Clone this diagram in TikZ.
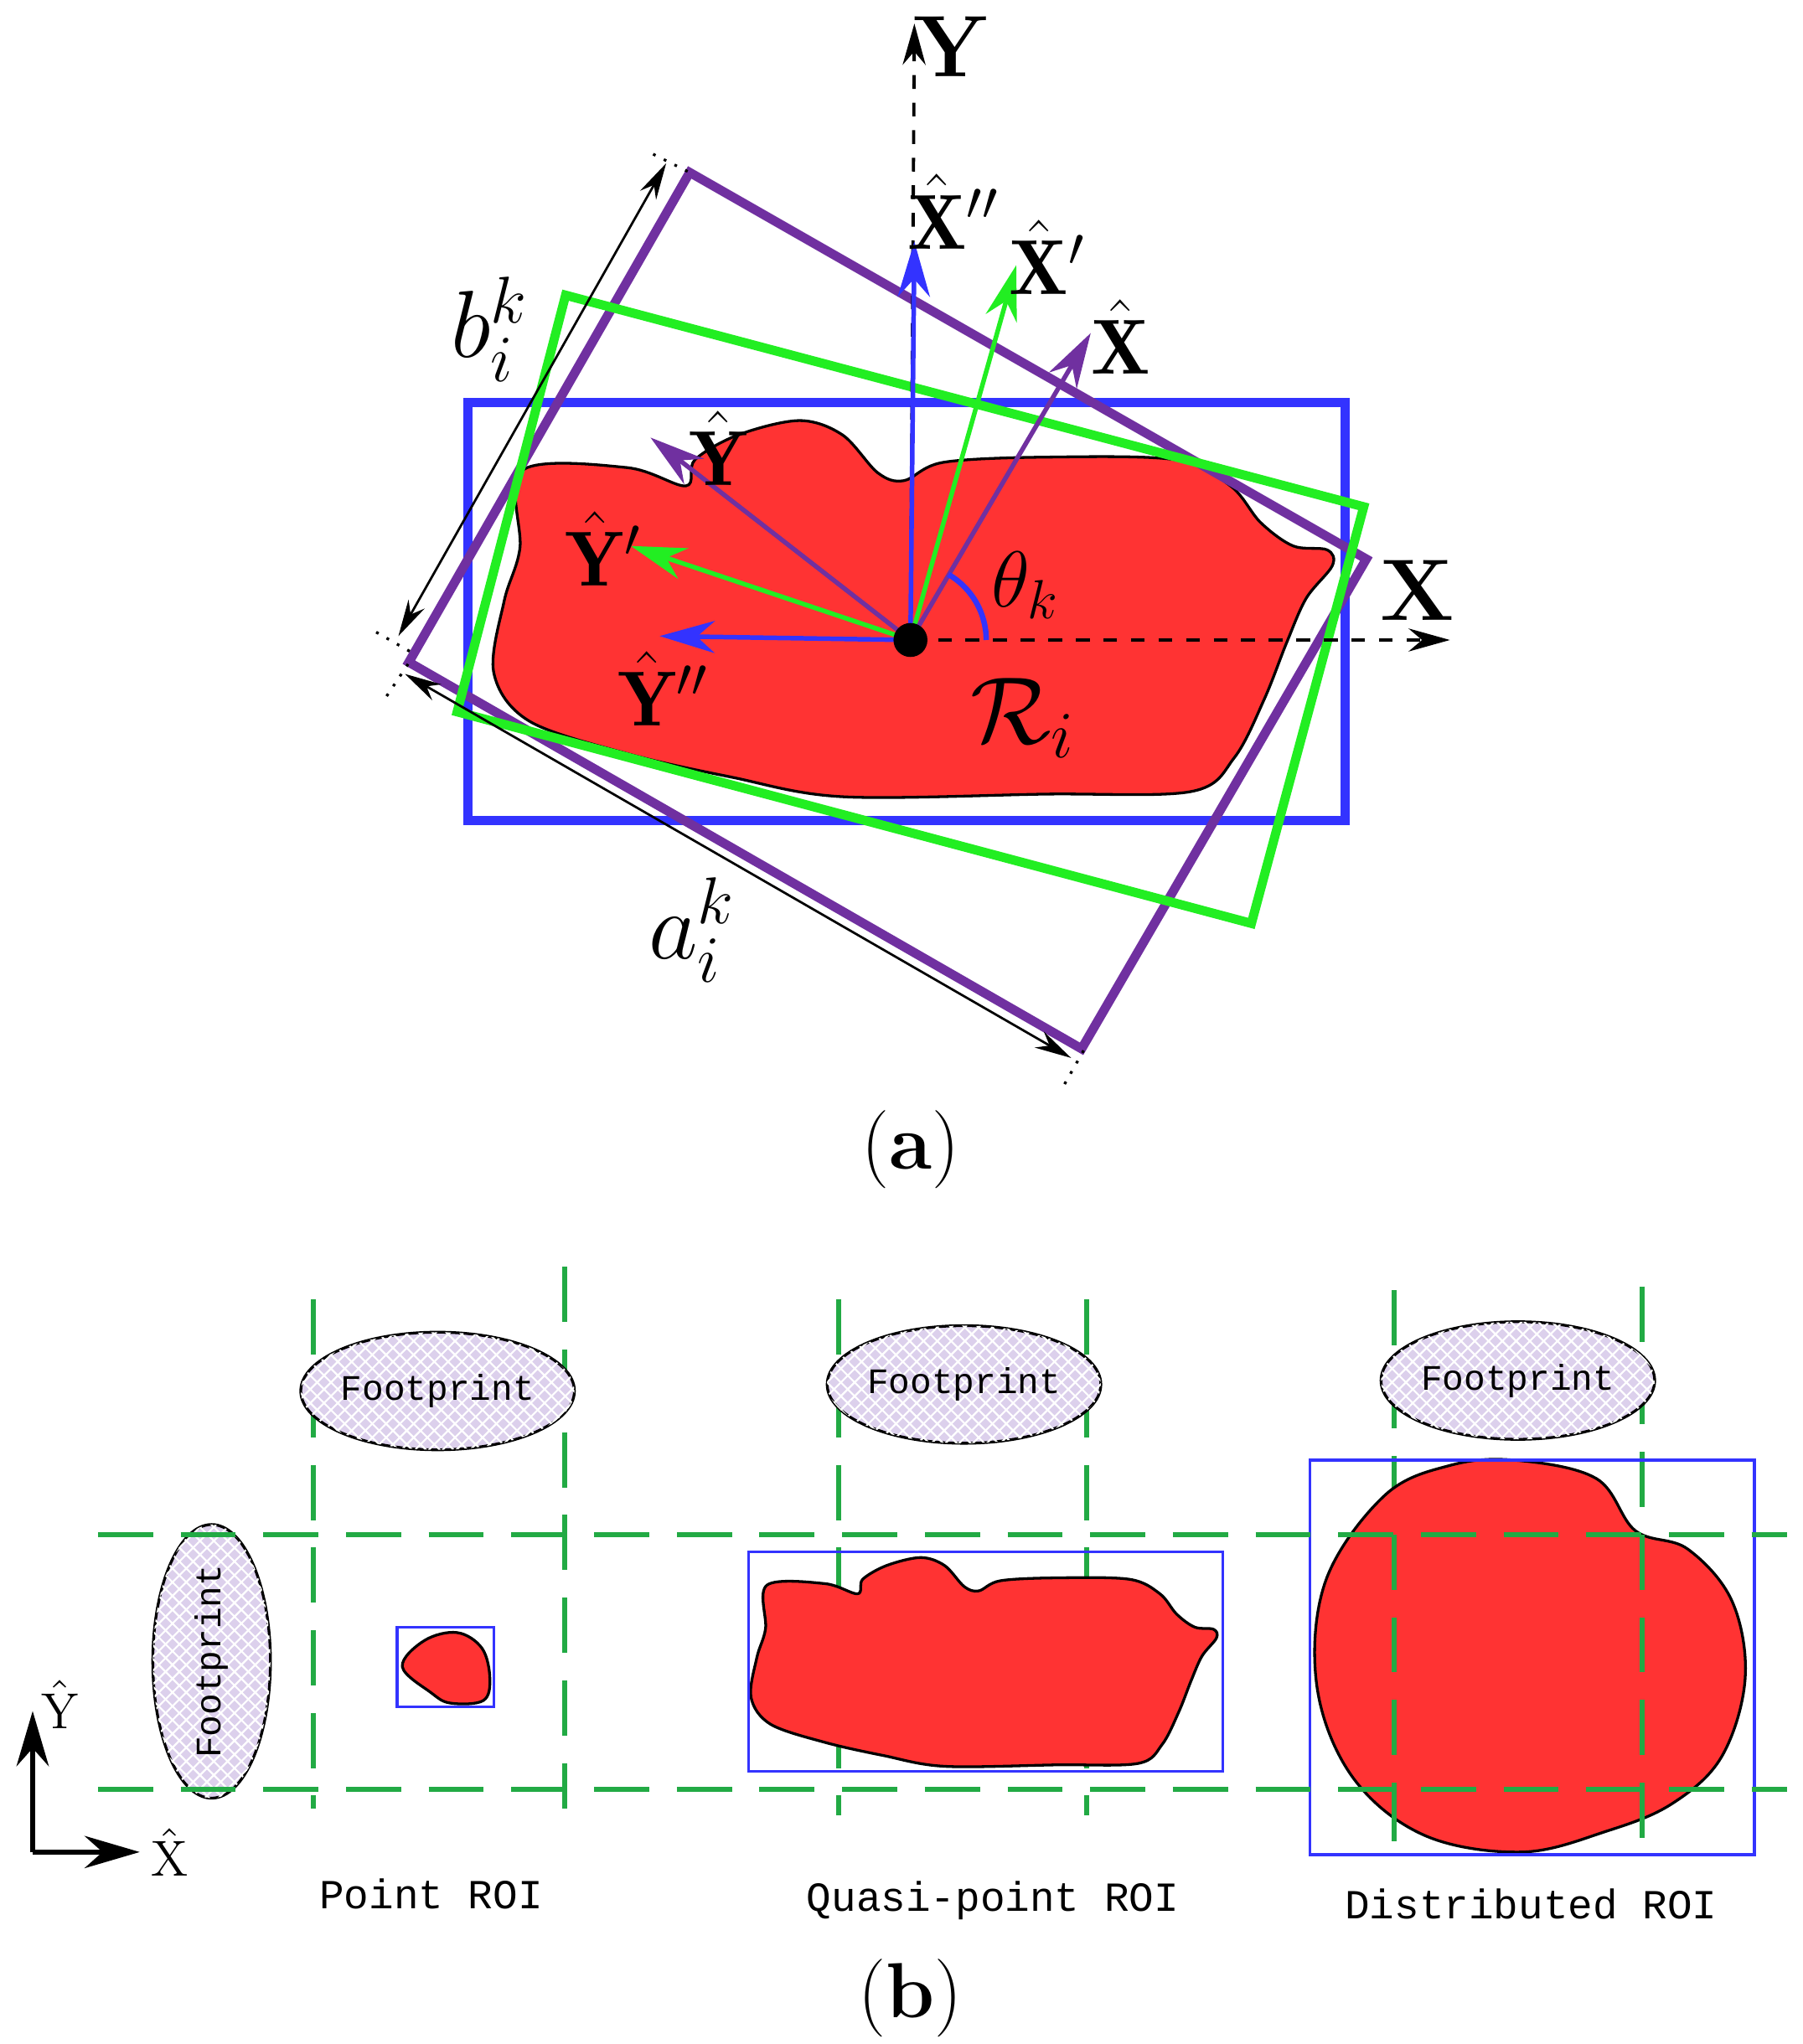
\documentclass[tikz,border=0pt]{standalone}
\usepackage{fontspec}
\newfontfamily\roifont{Liberation Mono}
\usetikzlibrary{arrows.meta, patterns, shapes.geometric}
\definecolor{roired}{HTML}{FF3333}
\definecolor{roiblue}{HTML}{3333FF}
\definecolor{roigreen}{HTML}{22EE22}
\definecolor{roipurple}{HTML}{7030A0}
\definecolor{gridgreen}{HTML}{22AA44}
\definecolor{lav}{HTML}{DCD0EC}
\newcommand{\blobpath}{plot[smooth cycle, tension=0.55] coordinates {(400,360) (480,358) (525,372) (532,352) (565,333) (612,322) (645,333) (672,362) (692,368) (722,354) (800,350) (900,352) (942,372) (965,400) (990,418) (1016,421) (1020,433) (1000,458) (985,492) (968,535) (945,580) (912,606) (800,608) (645,610) (560,595) (480,577) (405,552) (378,515) (386,460) (398,420)}}
\begin{document}
\begin{tikzpicture}[x=0.01cm, y=-0.01cm,
    vec/.style = {-{Stealth[length=12pt,width=7pt]}, line width=1pt},
    axis/.style = {dashed, -{Stealth[length=9pt,width=5pt]}, line width=0.7pt},
    dim/.style = {{Stealth[length=8pt,width=4pt]}-{Stealth[length=8pt,width=4pt]}, line width=0.5pt},
    tick/.style = {dotted, line width=0.6pt},
    lbl/.style = {font=\fontsize{17}{20}\selectfont},
    big/.style = {font=\fontsize{22}{26}\selectfont},
    grid/.style = {gridgreen, dash pattern=on 12pt off 6pt, line width=1.1pt},
    foot/.style = {ellipse, draw, line width=0.6pt, fill=lav, postaction={pattern=crosshatch, pattern color=white}, inner sep=0pt, minimum width=1.86cm, minimum height=0.9cm, font=\roifont\fontsize{7.8}{9}\selectfont},
    roi/.style = {roiblue, line width=0.6pt},
    roicap/.style = {font=\roifont\fontsize{9}{11}\selectfont},
    sub/.style = {font=\fontsize{17}{20}\selectfont}
]
\useasboundingbox (0,0) rectangle (1380,1565);

% (a) oriented boxes
\fill[roired] \blobpath;
\draw[line width=0.6pt] \blobpath;
\draw[roiblue, line width=2pt] (358,308) rectangle (1030,628);
\draw[roipurple, line width=2pt] (528,132) -- (1046,428) -- (828,803) -- (313,507) -- cycle;
\draw[roigreen, line width=2pt] (433,226) -- (1044,388) -- (958,707) -- (350,545) -- cycle;

% axes
\coordinate (O) at (697,490);
\coordinate (ytip) at (700,18);
\coordinate (xtip) at (1110,490);
\draw[axis] (O) -- (ytip);
\draw[axis] (O) -- (xtip);
\node[font=\bfseries\fontsize{19}{22}\selectfont] (ylab) at (728,36) {Y};
\node[font=\bfseries\fontsize{19}{22}\selectfont] (xlab) at (1085,452) {X};

% direction vectors
\coordinate (xpp) at (700,185);
\coordinate (ypp) at (505,487);
\coordinate (xp) at (778,203);
\coordinate (yp) at (483,418);
\coordinate (xh) at (835,255);
\coordinate (yh) at (498,335);
\draw[vec, roiblue] (O) -- (xpp);
\draw[vec, roiblue] (O) -- (ypp);
\draw[vec, roigreen] (O) -- (xp);
\draw[vec, roigreen] (O) -- (yp);
\draw[vec, roipurple] (O) -- (xh);
\draw[vec, roipurple] (O) -- (yh);
\draw[roiblue, line width=1.2pt] (O) ++(-60:58) arc[start angle=-60, end angle=0, radius=58];
\fill (O) circle (13);

\node[lbl] (lxpp) at (730,162) {$\hat{\mathbf{X}}''$};
\node[lbl] (lxp) at (802,197) {$\hat{\mathbf{X}}'$};
\node[lbl] (lxh) at (858,258) {$\hat{\mathbf{X}}$};
\node[lbl] (lyh) at (550,343) {$\hat{\mathbf{Y}}$};
\node[lbl] (lyp) at (462,420) {$\hat{\mathbf{Y}}'$};
\node[lbl] (lypp) at (508,527) {$\hat{\mathbf{Y}}''$};
\node[lbl] (ltheta) at (785,448) {$\theta_k$};
\node[big] (lR) at (783,550) {$\mathcal{R}_i$};
\node[big] (la) at (530,712) {$a_i^k$};
\node[big] (lb) at (375,252) {$b_i^k$};

% dimensions
\coordinate (b1) at (305,487);
\coordinate (b2) at (510,125);
\coordinate (a1) at (310,516);
\coordinate (a2) at (820,810);
\draw[dim] (b1) -- (b2);
\draw[dim] (a1) -- (a2);
\draw[tick] (288,484) -- (316,500);
\draw[tick] (500,118) -- (530,133);
\draw[tick] (296,533) -- (316,503);
\draw[tick] (815,830) -- (832,800);
\node[sub] (capa) at (697,880) {(\textbf{a})};

% (b) grid
\draw[grid] (240,995) -- (240,1385);
\draw[grid] (432,970) -- (432,1385);
\draw[grid] (642,995) -- (642,1390);
\draw[grid] (832,995) -- (832,1390);
\draw[grid] (1067,988) -- (1067,1420);
\draw[grid] (1257,985) -- (1257,1420);

% footprints
\node[foot] (fp1) at (335,1065) {Footprint};
\node[foot] (fp2) at (738,1060) {Footprint};
\node[foot] (fp3) at (1162,1057) {Footprint};
\node[foot, rotate=90] (fp4) at (162,1272) {Footprint};

% ROIs
\draw[fill=roired, line width=0.6pt] plot[smooth cycle, tension=0.6] coordinates {(308,1276) (325,1256) (350,1250) (369,1262) (375,1285) (370,1302) (345,1304) (330,1296)};
\draw[roi] (304,1246) rectangle (378,1307);
\begin{scope}[shift={(752,1273)}, scale=0.555, shift={(-697,-467)}]
\fill[roired] \blobpath;
\draw[line width=0.6pt] \blobpath;
\end{scope}
\draw[roi] (573,1188) rectangle (936,1356);
\draw[fill=roired, line width=0.6pt] plot[smooth cycle, tension=0.6] coordinates {(1160,1118) (1222,1132) (1252,1172) (1292,1186) (1326,1226) (1336,1285) (1318,1345) (1280,1381) (1230,1402) (1165,1418) (1090,1405) (1035,1360) (1008,1290) (1015,1210) (1060,1145) (1110,1122)};
\draw[roi] (1003,1118) rectangle (1343,1420);
\foreach \yy in {1175,1370} \draw[grid] (75,\yy) -- (1368,\yy);
\draw[grid] (1067,1175) -- (1067,1420);
\draw[grid] (1257,1175) -- (1257,1420);

% small axes
\coordinate (o2) at (25,1418);
\coordinate (y2) at (25,1310);
\coordinate (x2) at (107,1418);
\draw[vec, line width=1.2pt] (o2) -- (y2);
\draw[vec, line width=1.2pt] (o2) -- (x2);
\node[font=\fontsize{11}{13}\selectfont] (ly2) at (46,1305) {$\hat{\mathrm{Y}}$};
\node[font=\fontsize{11}{13}\selectfont] (lx2) at (130,1418) {$\hat{\mathrm{X}}$};

\node[roicap] (c1) at (330,1450) {Point ROI};
\node[roicap] (c2) at (760,1455) {Quasi-point ROI};
\node[roicap] (c3) at (1172,1458) {Distributed ROI};
\node[sub] (capb) at (697,1530) {(\textbf{b})};
\end{tikzpicture}
\end{document}
